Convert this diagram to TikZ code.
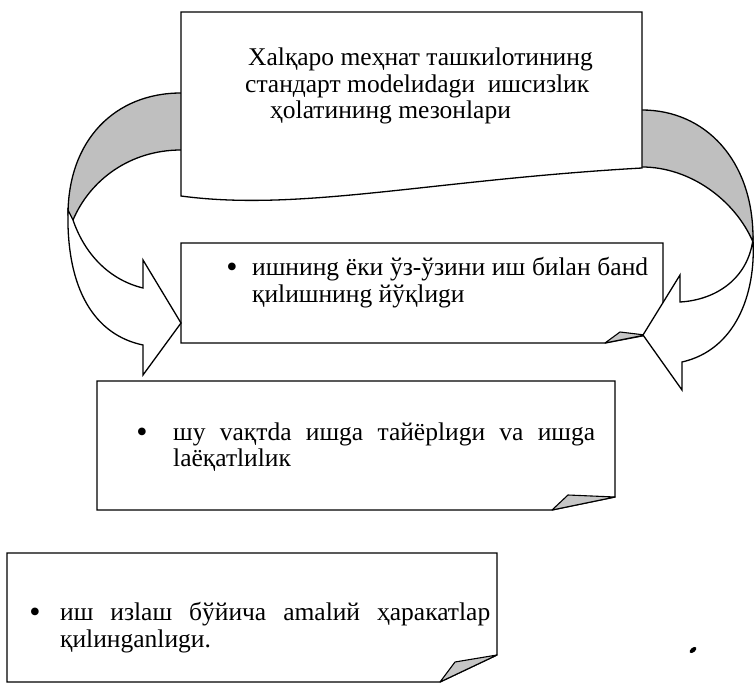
\documentclass[tikz,border=0pt]{standalone}
\usepackage{fontspec}
\setmainfont{Liberation Serif}
\begin{document}
\begin{tikzpicture}[x=1pt,y=-1pt,
  box/.style={draw=black,line width=1.3pt,fill=white,line join=miter},
  back/.style={draw=black,line width=1.3pt,fill=gray!50},
  front/.style={draw=black,line width=1.3pt,fill=white,line join=miter},
  fold/.style={draw=black,line width=1.1pt,fill=gray!45,line join=round},
  txt/.style={anchor=base west,inner sep=0pt,font=\fontsize{25.5}{27}\selectfont},
  bul/.style={anchor=base,inner sep=0pt,font=\fontsize{32}{32}\selectfont}]
\useasboundingbox (0,0) rectangle (755,688);
% back (shaded) bands of the curved arrows
\draw[back] (200,93) -- (181,93) .. controls (115,93) and (68,140) .. (68,215)
  -- (73,220) .. controls (90,180) and (130,150) .. (181,150) -- (200,150);
\draw[back] (620,110) -- (642,110) .. controls (705,110) and (753,160) .. (753,238)
  -- (753,242) .. controls (735,200) and (690,167) .. (642,167) -- (620,167);
% box 1 (document shape)
\draw[box] (181,12) -- (642,12) -- (642,168)
  .. controls (430,180) and (300,212) .. (181,196) -- cycle;
\node[txt] (t1a) at (248,65) {Xalқаро meҳнат ташкиlотининg};
\node[txt] (t1b) at (245,92) {стандарт modelиdagи\ \ ишсизlик};
\node[txt] (t1c) at (270,118) {ҳolатининg mезонlари};
% box 2
\draw[box] (181,243) -- (663,243) -- (663,332) -- (605,343) -- (181,343) -- cycle;
\draw[fold] (605,343) -- (620,332) -- (645,335) -- cycle;
\node[bul] (b2) at (232,277) {•};
\node[txt] (t2a) at (252,275) {\makebox[396pt][s]{ишнинg ёки ўз-ўзини иш биlан банd}};
\node[txt] (t2b) at (252,302) {қиlишнинg йўқlиgи};
% box 3
\draw[box] (97,381) -- (615,381) -- (615,497) -- (552,510) -- (97,510) -- cycle;
\draw[fold] (552,510) -- (568,495) -- (615,497) -- cycle;
\node[bul] (b3) at (142,442) {•};
\node[txt] (t3a) at (173,440) {\makebox[422pt][s]{шу vaқтda ишga тайёрlиgи va ишga}};
\node[txt] (t3b) at (173,466) {laёқатlиlик};
% box 4
\draw[box] (7,553) -- (497,553) -- (497,655) -- (440,682) -- (7,682) -- cycle;
\draw[fold] (440,682) -- (455,662) -- (497,655) -- cycle;
\node[bul] (b4) at (35,622) {•};
\node[txt] (t4a) at (60,620) {\makebox[430pt][s]{иш изlаш бўйича amalий ҳаракатlар}};
\node[txt] (t4b) at (60,647) {қиlинganlиgи.};
% front (white) parts of the curved arrows
\draw[front] (68,210) .. controls (66,290) and (95,335) .. (143,345)
  -- (143,375) -- (181,323) -- (143,260) -- (143,288)
  .. controls (110,280) and (85,255) .. (73,220) -- cycle;
\draw[front] (753,240) .. controls (756,295) and (735,350) .. (682,362)
  -- (682,390) -- (643,335) -- (680,275) -- (680,302)
  .. controls (715,300) and (745,280) .. (752,245) -- cycle;
% ink spot
\fill[black,rotate around={40:(693,650)}] (693,650) ellipse (4 and 2.2);
\end{tikzpicture}
\end{document}
